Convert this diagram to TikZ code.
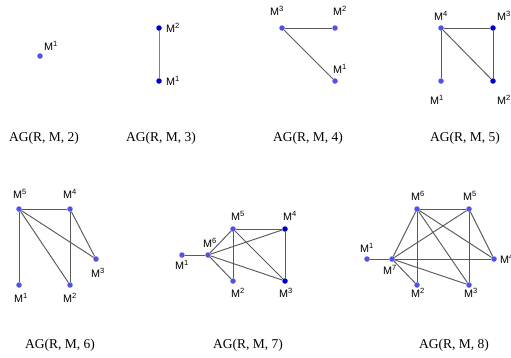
\documentclass[tikz,border=0pt]{standalone}
\usepackage{fontspec}
\setmainfont{Liberation Serif}
\newfontfamily\lblfont{Liberation Sans}
\definecolor{lightdot}{RGB}{82,82,232}
\definecolor{darkdot}{RGB}{0,0,205}
\definecolor{edgecol}{RGB}{90,90,90}
\tikzset{
  vtx/.style={circle,inner sep=0pt,minimum size=5.5pt,fill=lightdot,draw=none},
  vtxd/.style={vtx,fill=darkdot},
  lbl/.style={inner sep=0pt,font=\lblfont\fontsize{10.8}{12}\selectfont},
  captxt/.style={inner sep=0pt,font=\fontsize{13.5}{16}\selectfont},
  lnk/.style={draw=edgecol,line width=0.95pt},
}
\newcommand{\Mx}[1]{M\textsuperscript{#1}}
\begin{document}
\begin{tikzpicture}[x=1pt,y=-1pt]
\useasboundingbox (0,0) rectangle (511,357);
% ---- AG(R,M,2)
\node[vtx] (a1) at (40,56) {};
\node[lbl] (a1l) at (51,46) {\Mx{1}};
\node[captxt] (ca) at (44,138) {AG(R, M, 2)};
% ---- AG(R,M,3)
\node[vtxd] (b2) at (159,28) {};
\node[vtxd] (b1) at (159,81) {};
\node[lbl] (b2l) at (173,28) {\Mx{2}};
\node[lbl] (b1l) at (173,81) {\Mx{1}};
\draw[lnk,draw=gray] (b2) -- (b1);
\node[captxt] (cb) at (161,138) {AG(R, M, 3)};
% ---- AG(R,M,4)
\node[vtx] (c3) at (282,28) {};
\node[vtx] (c2) at (335,28) {};
\node[vtx] (c1) at (335,81) {};
\node[lbl] (c3l) at (277,11) {\Mx{3}};
\node[lbl] (c2l) at (340,11) {\Mx{2}};
\node[lbl] (c1l) at (340,69) {\Mx{1}};
\draw[lnk] (c3) -- (c2);
\draw[lnk] (c3) -- (c1);
\node[captxt] (cc) at (308,138) {AG(R, M, 4)};
% ---- AG(R,M,5)
\node[vtx] (d4) at (441,28) {};
\node[vtxd] (d3) at (493,28) {};
\node[vtx] (d1) at (441,81) {};
\node[vtxd] (d2) at (493,81) {};
\node[lbl] (d4l) at (441,16) {\Mx{4}};
\node[lbl] (d3l) at (504,16) {\Mx{3}};
\node[lbl] (d1l) at (437,100) {\Mx{1}};
\node[lbl] (d2l) at (504,100) {\Mx{2}};
\draw[lnk] (d4) -- (d3);
\draw[lnk] (d4) -- (d1);
\draw[lnk] (d4) -- (d2);
\draw[lnk] (d3) -- (d2);
\node[captxt] (cd) at (465,138) {AG(R, M, 5)};
% ---- AG(R,M,6)
\node[vtx] (e5) at (19,209) {};
\node[vtx] (e4) at (70,209) {};
\node[vtx] (e3) at (96,259) {};
\node[vtx] (e1) at (19,285) {};
\node[vtx] (e2) at (70,285) {};
\node[lbl] (e5l) at (20,194) {\Mx{5}};
\node[lbl] (e4l) at (70,194) {\Mx{4}};
\node[lbl] (e3l) at (98,273) {\Mx{3}};
\node[lbl] (e1l) at (21,298) {\Mx{1}};
\node[lbl] (e2l) at (70,298) {\Mx{2}};
\draw[lnk] (e5) -- (e4);
\draw[lnk] (e5) -- (e1);
\draw[lnk] (e5) -- (e2);
\draw[lnk] (e5) -- (e3);
\draw[lnk] (e4) -- (e2);
\draw[lnk] (e4) -- (e3);
\node[captxt] (ce) at (60,345) {AG(R, M, 6)};
% ---- AG(R,M,7)
\node[vtx] (f1) at (182,255) {};
\node[vtx] (f6) at (208,255) {};
\node[vtx] (f5) at (233,229) {};
\node[vtxd] (f4) at (285,229) {};
\node[vtx] (f2) at (233,281) {};
\node[vtxd] (f3) at (285,281) {};
\node[lbl] (f1l) at (182,265) {\Mx{1}};
\node[lbl] (f6l) at (210,243) {\Mx{6}};
\node[lbl] (f5l) at (238,216) {\Mx{5}};
\node[lbl] (f4l) at (290,216) {\Mx{4}};
\node[lbl] (f2l) at (238,293) {\Mx{2}};
\node[lbl] (f3l) at (286,293) {\Mx{3}};
\draw[lnk] (f1) -- (f6);
\draw[lnk] (f6) -- (f5);
\draw[lnk] (f6) -- (f4);
\draw[lnk] (f6) -- (f2);
\draw[lnk] (f6) -- (f3);
\draw[lnk] (f5) -- (f4);
\draw[lnk] (f5) -- (f2);
\draw[lnk] (f5) -- (f3);
\draw[lnk] (f4) -- (f3);
\node[captxt] (cf) at (248,345) {AG(R, M, 7)};
% ---- AG(R,M,8)
\node[vtx] (g1) at (367,259) {};
\node[vtx] (g7) at (392,259) {};
\node[vtx] (g6) at (417,209) {};
\node[vtx] (g5) at (469,209) {};
\node[vtx] (g4) at (494,259) {};
\node[vtx] (g2) at (417,285) {};
\node[vtx] (g3) at (469,285) {};
\node[lbl] (g1l) at (367,248) {\Mx{1}};
\node[lbl] (g7l) at (390,270) {\Mx{7}};
\node[lbl] (g6l) at (418,196) {\Mx{6}};
\node[lbl] (g5l) at (470,196) {\Mx{5}};
\node[lbl] (g4l) at (507,259) {\Mx{4}};
\node[lbl] (g2l) at (418,293) {\Mx{2}};
\node[lbl] (g3l) at (471,293) {\Mx{3}};
\draw[lnk] (g1) -- (g7);
\draw[lnk] (g7) -- (g6);
\draw[lnk] (g7) -- (g5);
\draw[lnk] (g7) -- (g4);
\draw[lnk] (g7) -- (g2);
\draw[lnk] (g7) -- (g3);
\draw[lnk] (g6) -- (g5);
\draw[lnk] (g6) -- (g2);
\draw[lnk] (g6) -- (g4);
\draw[lnk] (g6) -- (g3);
\draw[lnk] (g5) -- (g4);
\draw[lnk] (g5) -- (g3);
\node[captxt] (cg) at (454,345) {AG(R, M, 8)};
\end{tikzpicture}
\end{document}
